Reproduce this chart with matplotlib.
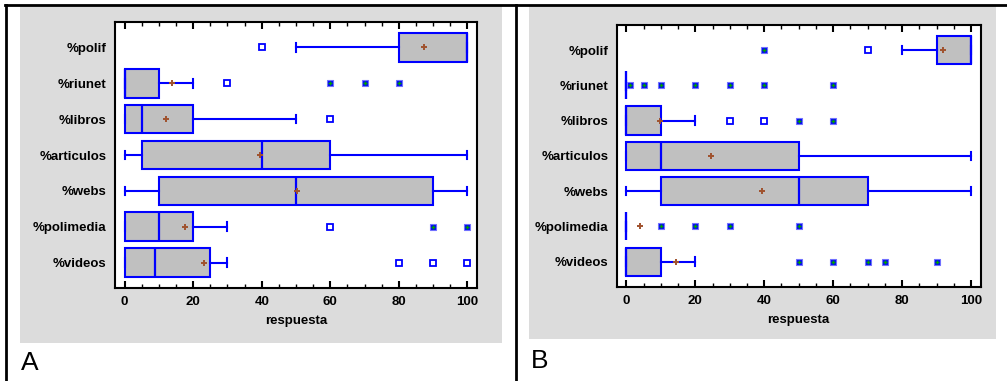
import matplotlib
matplotlib.use('Agg')
import matplotlib.pyplot as plt
from matplotlib.patches import Rectangle
from matplotlib.lines import Line2D
from matplotlib.ticker import MultipleLocator

categorias = ['%polif', '%riunet', '%libros', '%articulos', '%webs', '%polimedia', '%videos']

# panel A
a_q1 = [80, 0, 0, 5, 10, 0, 0]
a_med = [100, 0, 5, 40, 50, 10, 9]
a_q3 = [100, 10, 20, 60, 90, 20, 25]
a_whislo = [50, 0, 0, 0, 0, 0, 0]
a_whishi = [100, 20, 50, 100, 100, 30, 30]
a_mean = [87.3, 13.8, 12.2, 39.5, 50.4, 17.5, 23.1]
a_out = [[40], [30], [60], [], [], [60], [80, 90, 100]]
a_far = [[], [60, 70, 80], [], [], [], [90, 100], []]

# panel B
b_q1 = [90, 0, 0, 0, 10, 0, 0]
b_med = [100, 0, 0, 10, 50, 0, 0]
b_q3 = [100, 0, 10, 50, 70, 0, 10]
b_whislo = [80, 0, 0, 0, 0, 0, 0]
b_whishi = [100, 0, 20, 100, 100, 0, 20]
b_mean = [91.8, 5.2, 9.8, 24.7, 39.4, 4.1, 14.3]
b_out = [[70], [], [30, 40], [], [], [], []]
b_far = [[40], [1, 5, 10, 20, 30, 40, 60], [50, 60], [], [], [10, 20, 30, 50],
         [50, 60, 70, 75, 90]]

W, H = 1007, 381
fig = plt.figure(figsize=(W / 100, H / 100), dpi=100)
fig.patch.set_facecolor('white')
fuente = 'Liberation Sans'


def rect_px(x0, y0, x1, y1):
    return [x0 / W, 1 - y1 / H, (x1 - x0) / W, (y1 - y0) / H]


# fondos grises
for (x0, y0, x1, y1) in [(20, 6, 502, 343), (529, 6, 996, 339)]:
    r = rect_px(x0, y0, x1, y1)
    fig.add_artist(Rectangle((r[0], r[1]), r[2], r[3], transform=fig.transFigure,
                             facecolor='#dcdcdc', edgecolor='none', zorder=-5))

# lineas de la tabla
for xs, ys in [([5, W], [5, 5]), ([6, 6], [5, H]), ([516, 516], [5, H])]:
    fig.add_artist(Line2D([x / W for x in xs], [1 - y / H for y in ys],
                          transform=fig.transFigure, color='black', lw=2, zorder=-4))


def panel(pos, q1, med, q3, wlo, whi, mean, out, far):
    ax = fig.add_axes(pos)
    stats = []
    for i in range(len(categorias)):
        stats.append(dict(q1=q1[i], med=med[i], q3=q3[i], whislo=wlo[i],
                          whishi=whi[i], mean=mean[i], fliers=out[i]))
    ax.bxp(stats, positions=range(len(categorias)), widths=0.8, capwidths=0.24,
           orientation='horizontal', patch_artist=True, showmeans=True,
           boxprops=dict(facecolor='#c0c0c0', edgecolor='#0000ff', lw=1.5),
           whiskerprops=dict(color='#0000ff', lw=1.5),
           capprops=dict(color='#0000ff', lw=1.5),
           medianprops=dict(color='#0000ff', lw=1.6),
           meanprops=dict(marker='+', color='#a0522d', markeredgecolor='#a0522d',
                          markersize=5, markeredgewidth=1.4),
           flierprops=dict(marker='s', markerfacecolor='white',
                           markeredgecolor='#0000ff', markersize=4,
                           markeredgewidth=1.3))
    for i, vals in enumerate(far):
        if vals:
            ax.plot(vals, [i] * len(vals), 's', mfc='#0000ff', mec='#7070ff',
                    ms=5, mew=0.8, zorder=4)
            ax.plot(vals, [i] * len(vals), '+', color='#00a000', ms=3,
                    mew=1.0, zorder=5)
    ax.set_xlim(-2.8, 102.8)
    ax.set_ylim(6.71, -0.71)
    ax.set_yticks(range(len(categorias)))
    ax.set_yticklabels(categorias)
    ax.set_xticks(range(0, 101, 20))
    ax.xaxis.set_minor_locator(MultipleLocator(5))
    ax.tick_params(axis='x', which='both', direction='in', top=True, bottom=True,
                   colors='black')
    ax.tick_params(axis='x', which='major', length=5, width=1.5, pad=6)
    ax.tick_params(axis='x', which='minor', length=3, width=1)
    ax.tick_params(axis='y', length=0, pad=6)
    for lab in ax.get_xticklabels() + ax.get_yticklabels():
        lab.set_fontfamily(fuente)
        lab.set_fontweight('bold')
        lab.set_fontsize(9.5)
    ax.set_xlabel('respuesta', fontfamily=fuente, fontweight='bold', fontsize=9.5,
                  labelpad=5)
    for s in ax.spines.values():
        s.set_linewidth(1.5)
        s.set_color('black')
    ax.set_facecolor('white')
    return ax


panel(rect_px(115, 22, 477, 288), a_q1, a_med, a_q3, a_whislo, a_whishi, a_mean,
      a_out, a_far)
panel(rect_px(616.7, 25, 980.7, 286.7), b_q1, b_med, b_q3, b_whislo, b_whishi,
      b_mean, b_out, b_far)

fig.text(21 / W, 1 - 363 / H, 'A', fontfamily=fuente, fontsize=19, va='center',
         ha='left')
fig.text(531 / W, 1 - 361 / H, 'B', fontfamily=fuente, fontsize=19, va='center',
         ha='left')

fig.savefig('out.png', dpi=100)
